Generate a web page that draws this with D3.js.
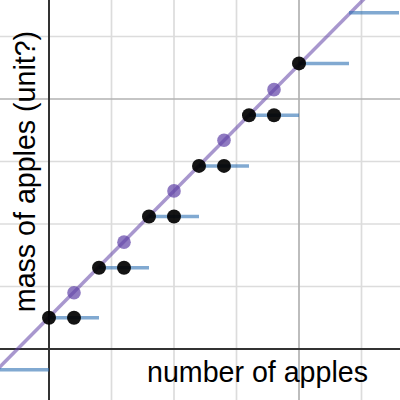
<!DOCTYPE html>
<html><head><meta charset="utf-8">
<script src="https://cdn.jsdelivr.net/npm/d3@7"></script>
<style>html,body{margin:0;padding:0;background:#fff;}svg{display:block;}</style>
</head><body>
<svg id="c" width="400" height="400"></svg>
<script>
// Data (grid units)
const stepStarts = [-0.8, 0, 0.8, 1.6, 2.4, 3.2, 4.0, 4.8];
const stepEnds   = [0, 0.8, 1.6, 2.4, 3.2, 4.0, 4.8, 5.6];
const stepValues = [-0.33, 0.5, 1.3, 2.12, 2.93, 3.74, 4.57, 5.38];
const blackX = [0, 0.4, 0.8, 1.2, 1.6, 2.0, 2.4, 2.8, 3.2, 3.6, 4.0];
const blackY = [0.5, 0.5, 1.3, 1.3, 2.12, 2.12, 2.93, 2.93, 3.74, 3.74, 4.57];
const purpleX = [0.4, 1.2, 2.0, 2.8, 3.6];
const purpleY = [0.9, 1.71, 2.53, 3.34, 4.15];
const lineX = [-0.9, 5.1];
const lineY = [-0.40, 5.66];
const minorGrid = [1, 2, 3, 5];
const majorGrid = [4];
const xLabel = "number of apples";
const yLabel = "mass of apples (unit?)";

const W = 400, H = 400;
const x = d3.scaleLinear().domain([-0.784, 5.616]).range([0, W]);
const y = d3.scaleLinear().domain([-0.816, 5.584]).range([H, 0]);
const svg = d3.select("#c");

// grid
const g = svg.append("g");
g.selectAll(".vmin").data(minorGrid).join("line")
  .attr("x1", d => x(d)).attr("x2", d => x(d)).attr("y1", 0).attr("y2", H)
  .attr("stroke", "#dcdcdc").attr("stroke-width", 1.7);
g.selectAll(".hmin").data(minorGrid).join("line")
  .attr("y1", d => y(d)).attr("y2", d => y(d)).attr("x1", 0).attr("x2", W)
  .attr("stroke", "#dcdcdc").attr("stroke-width", 1.7);
g.selectAll(".vmaj").data(majorGrid).join("line")
  .attr("x1", d => x(d)).attr("x2", d => x(d)).attr("y1", 0).attr("y2", H)
  .attr("stroke", "#b2b2b2").attr("stroke-width", 1.7);
g.selectAll(".hmaj").data(majorGrid).join("line")
  .attr("y1", d => y(d)).attr("y2", d => y(d)).attr("x1", 0).attr("x2", W)
  .attr("stroke", "#b2b2b2").attr("stroke-width", 1.7);

// axes
svg.append("line").attr("x1", x(0)).attr("x2", x(0)).attr("y1", 0).attr("y2", H)
  .attr("stroke", "#333").attr("stroke-width", 2);
svg.append("line").attr("y1", y(0)).attr("y2", y(0)).attr("x1", 0).attr("x2", W)
  .attr("stroke", "#333").attr("stroke-width", 2);

// labels
svg.append("text").attr("x", 257.5).attr("y", 382).attr("text-anchor", "middle")
  .attr("font-family", "Liberation Sans, Arial, sans-serif").attr("font-size", 28.6)
  .attr("fill", "#000").text(xLabel);
svg.append("text").attr("transform", "translate(35,171.5) rotate(-90)").attr("text-anchor", "middle")
  .attr("font-family", "Liberation Sans, Arial, sans-serif").attr("font-size", 28.6)
  .attr("fill", "#000").text(yLabel);

// purple line
svg.append("line")
  .attr("x1", x(lineX[0])).attr("y1", y(lineY[0]))
  .attr("x2", x(lineX[1])).attr("y2", y(lineY[1]))
  .attr("stroke", "#6042a6").attr("stroke-opacity", 0.55).attr("stroke-width", 3.5);

// blue steps
svg.selectAll(".step").data(stepStarts.map((s, i) => ({s, e: stepEnds[i], v: stepValues[i]})))
  .join("line")
  .attr("x1", d => x(d.s)).attr("x2", d => x(d.e))
  .attr("y1", d => y(d.v)).attr("y2", d => y(d.v))
  .attr("stroke", "#2d70b3").attr("stroke-opacity", 0.6).attr("stroke-width", 3.5);

// purple dots
svg.selectAll(".pd").data(purpleX.map((v, i) => [v, purpleY[i]])).join("circle")
  .attr("cx", d => x(d[0])).attr("cy", d => y(d[1])).attr("r", 6.8)
  .attr("fill", "#6042a6").attr("fill-opacity", 0.7);

// black dots
svg.selectAll(".bd").data(blackX.map((v, i) => [v, blackY[i]])).join("circle")
  .attr("cx", d => x(d[0])).attr("cy", d => y(d[1])).attr("r", 7)
  .attr("fill", "#000").attr("fill-opacity", 0.92);
</script>
</body></html>
